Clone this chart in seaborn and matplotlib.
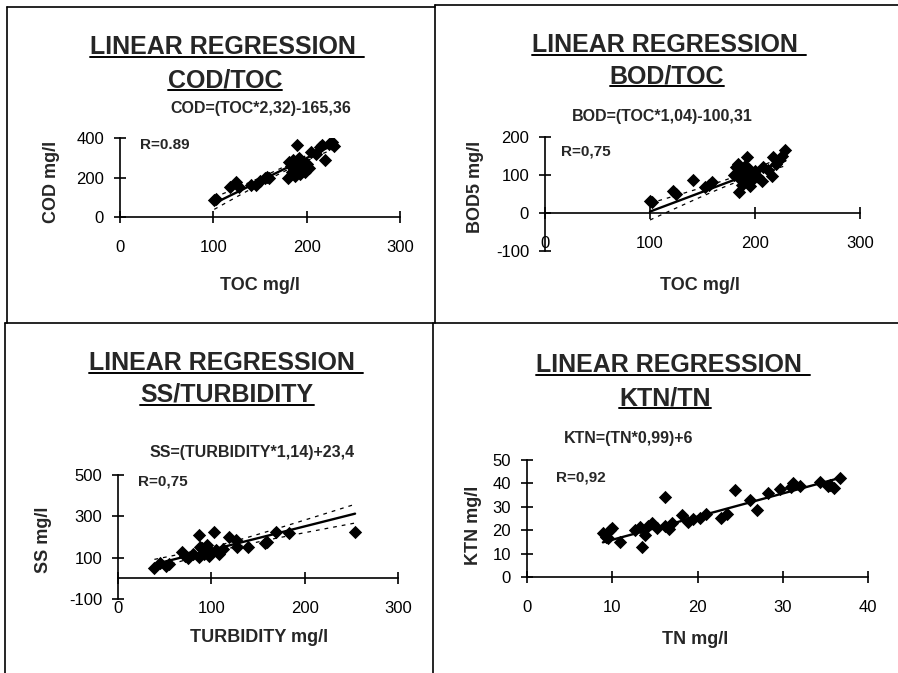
import numpy as np
import matplotlib
matplotlib.use("Agg")
import matplotlib.pyplot as plt
from matplotlib.lines import Line2D
import seaborn as sns

# COD / TOC
toc_a = [101, 103, 118, 124, 128, 140, 146, 150, 155, 158, 160, 180, 181, 183, 184, 185, 186, 188, 189,
         190, 191, 192, 193, 194, 195, 196, 198, 200, 202, 205, 210, 214, 216, 220, 224, 227, 229]
cod = [86, 90, 150, 177, 150, 160, 162, 180, 200, 203, 198, 200, 280, 260, 230, 290, 250, 210, 270,
       364, 240, 300, 220, 260, 245, 280, 230, 270, 250, 330, 320, 355, 364, 289, 370, 380, 360]
cod_fit = (2.32, -165.36)

# BOD5 / TOC
toc_b = [100, 102, 122, 125, 141, 152, 156, 159, 180, 182, 184, 185, 186, 187, 188, 189, 190, 191,
         192, 193, 194, 195, 196, 198, 200, 203, 207, 208, 212, 216, 217, 220, 223, 226, 229]
bod = [32, 28, 59, 50, 87, 68, 75, 81, 100, 120, 130, 54, 90, 110, 75, 100, 125, 85,
       147, 95, 115, 70, 105, 90, 110, 95, 85, 120, 112, 98, 147, 130, 140, 150, 165]
bod_fit = (1.04, -100.31)

# SS / turbidity
turb = [39, 45, 51, 55, 69, 72, 75, 80, 87, 87, 88, 90, 92, 95, 97, 100, 103, 105, 108, 112,
        119, 126, 128, 139, 158, 160, 169, 183, 254]
ss = [50, 73, 58, 70, 126, 110, 97, 120, 208, 102, 150, 145, 120, 160, 110, 126, 222, 135, 120, 140,
      198, 184, 150, 150, 170, 174, 222, 217, 222]
ss_fit = (1.14, 23.4)

# KTN / TN
tn = [8.9, 9.3, 9.5, 9.7, 10.0, 10.9, 12.7, 13.2, 13.5, 13.9, 14.2, 14.7, 15.2, 16.2, 16.2, 16.6,
      17.0, 18.2, 18.9, 19.5, 20.3, 21.0, 22.7, 23.5, 24.4, 26.2, 27.0, 28.3, 29.7, 31.0, 31.2,
      32.0, 34.4, 35.3, 35.6, 36.0, 36.7]
ktn = [18.8, 17, 16.7, 20, 21, 15, 20, 21.5, 12.8, 18, 22, 23, 21, 34, 22, 20.5,
       23, 26.5, 23.5, 25, 25.2, 27, 25.2, 27, 37, 33, 28.6, 35.8, 37.6, 38.5, 40,
       39, 40.6, 39, 39.3, 38, 42.3]
ktn_fit = (0.99, 6)

sns.set_style("ticks")
plt.rcParams["font.family"] = ["Liberation Sans", "DejaVu Sans"]
plt.rcParams["axes.unicode_minus"] = False

W, H = 898, 673
fig = plt.figure(figsize=(W / 100, H / 100), dpi=100)


def fp(x, y):
    # pixel position (from top-left) -> figure fraction
    return x / W, 1 - y / H


def panel(box, x, y, fit, xlim, ylim, xticks, yticks, conf=True):
    x0, y0, x1, y1 = box
    ax = fig.add_axes([x0 / W, 1 - y1 / H, (x1 - x0) / W, (y1 - y0) / H])
    sns.scatterplot(x=x, y=y, marker="D", color="black", s=46, linewidth=0, ax=ax, zorder=3)
    x = np.asarray(x, float)
    y = np.asarray(y, float)
    slope, icpt = fit
    xs = np.linspace(x.min(), x.max(), 60)
    yhat = slope * xs + icpt
    ax.plot(xs, yhat, color="black", lw=1.7, zorder=2)
    if conf:
        # 95% confidence lines around the regression
        n = len(x)
        res = y - (slope * x + icpt)
        s = np.sqrt(np.sum(res ** 2) / (n - 2))
        sxx = np.sum((x - x.mean()) ** 2)
        half = 2.03 * s * np.sqrt(1 / n + (xs - x.mean()) ** 2 / sxx)
        for sign in (1, -1):
            ax.plot(xs, yhat + sign * half, color="black", lw=0.9, ls=(0, (3, 4)), zorder=2)
    ax.set_xlim(*xlim)
    ax.set_ylim(*ylim)
    ax.set_xticks(xticks)
    ax.set_yticks(yticks)
    ax.spines["top"].set_visible(False)
    ax.spines["right"].set_visible(False)
    ax.spines["bottom"].set_position(("data", 0))
    for sp in ("left", "bottom"):
        ax.spines[sp].set_linewidth(1.2)
        ax.spines[sp].set_color("black")
    ax.tick_params(direction="inout", length=9, width=1.2, colors="black", labelsize=12)
    ax.tick_params(axis="x", pad=12)
    ax.tick_params(axis="y", pad=7)
    ax.patch.set_alpha(0)
    return ax


def labels(ax, xlabel, xpos, ylabel, ypos):
    ax.set_xlabel(xlabel, fontsize=13, fontweight="bold")
    ax.set_ylabel(ylabel, fontsize=13, fontweight="bold")
    ax.xaxis.set_label_coords(*fp(*xpos), transform=fig.transFigure)
    ax.yaxis.set_label_coords(*fp(*ypos), transform=fig.transFigure)
    ax.xaxis.label.set_va("center")
    ax.yaxis.label.set_va("center")


ax1 = panel((120, 138, 400, 217), toc_a, cod, cod_fit, (0, 300), (0, 400), [0, 100, 200, 300], [0, 200, 400])
labels(ax1, "TOC mg/l", (260, 285), "COD mg/l", (52, 182))

ax2 = panel((545, 137, 860, 251), toc_b, bod, bod_fit, (0, 300), (-100, 200), [0, 100, 200, 300], [-100, 0, 100, 200])
labels(ax2, "TOC mg/l", (700, 285), "BOD5 mg/l", (475, 187))

ax3 = panel((118, 475, 398, 599), turb, ss, ss_fit, (0, 300), (-100, 500), [0, 100, 200, 300], [-100, 100, 300, 500])
labels(ax3, "TURBIDITY mg/l", (259, 638), "SS mg/l", (43, 540))

ax4 = panel((527, 460, 868, 577), tn, ktn, ktn_fit, (0, 40), (0, 50), [0, 10, 20, 30, 40], [0, 10, 20, 30, 40, 50],
            conf=False)
labels(ax4, "TN mg/l", (695, 640), "KTN mg/l", (473, 525))

titles = []
for (tx, ty), (sx, sy), sub in [((223, 47), (225, 80), "COD/TOC"),
                                ((665, 45), (667, 76), "BOD/TOC"),
                                ((222, 363), (227, 395), "SS/TURBIDITY"),
                                ((669, 365), (665, 398), "KTN/TN")]:
    t1 = fig.text(*fp(tx, ty), "LINEAR REGRESSION", ha="center", va="center", fontsize=18, fontweight="bold")
    t2 = fig.text(*fp(sx, sy), sub, ha="center", va="center", fontsize=18, fontweight="bold")
    titles.append((t1, 8))
    titles.append((t2, 0))

for (ex, ey), eq in [((261, 109), "COD=(TOC*2,32)-165,36"),
                     ((662, 117), "BOD=(TOC*1,04)-100,31"),
                     ((252, 453), "SS=(TURBIDITY*1,14)+23,4"),
                     ((629, 438), "KTN=(TN*0,99)+6")]:
    fig.text(*fp(ex, ey), eq, ha="center", va="center", fontsize=11.5, fontweight="bold")

for (rx, ry), r in [((140, 145), "R=0.89"), ((561, 152), "R=0,75"),
                    ((138, 482), "R=0,75"), ((556, 477), "R=0,92")]:
    fig.text(*fp(rx, ry), r, ha="left", va="center", fontsize=11, fontweight="bold")

# underline the titles
fig.canvas.draw()
renderer = fig.canvas.get_renderer()
for t, extra in titles:
    bb = t.get_window_extent(renderer)
    yline = bb.y0 + 2
    fig.add_artist(Line2D([bb.x0 / W, (bb.x1 + extra) / W], [yline / H, yline / H],
                          transform=fig.transFigure, color="black", lw=1.4))

# panel frames
frames = [((7, 7), (7, 323)), ((7, 7), (435, 7)), ((435, 5), (435, 323)), ((435, 5), (898, 5)),
          ((5, 323), (898, 323)), ((5, 323), (5, 673)), ((433, 323), (433, 673))]
for (xa, ya), (xb, yb) in frames:
    pa, pb = fp(xa, ya), fp(xb, yb)
    fig.add_artist(Line2D([pa[0], pb[0]], [pa[1], pb[1]], transform=fig.transFigure, color="black", lw=1.2))

fig.savefig("out.png", dpi=100)
